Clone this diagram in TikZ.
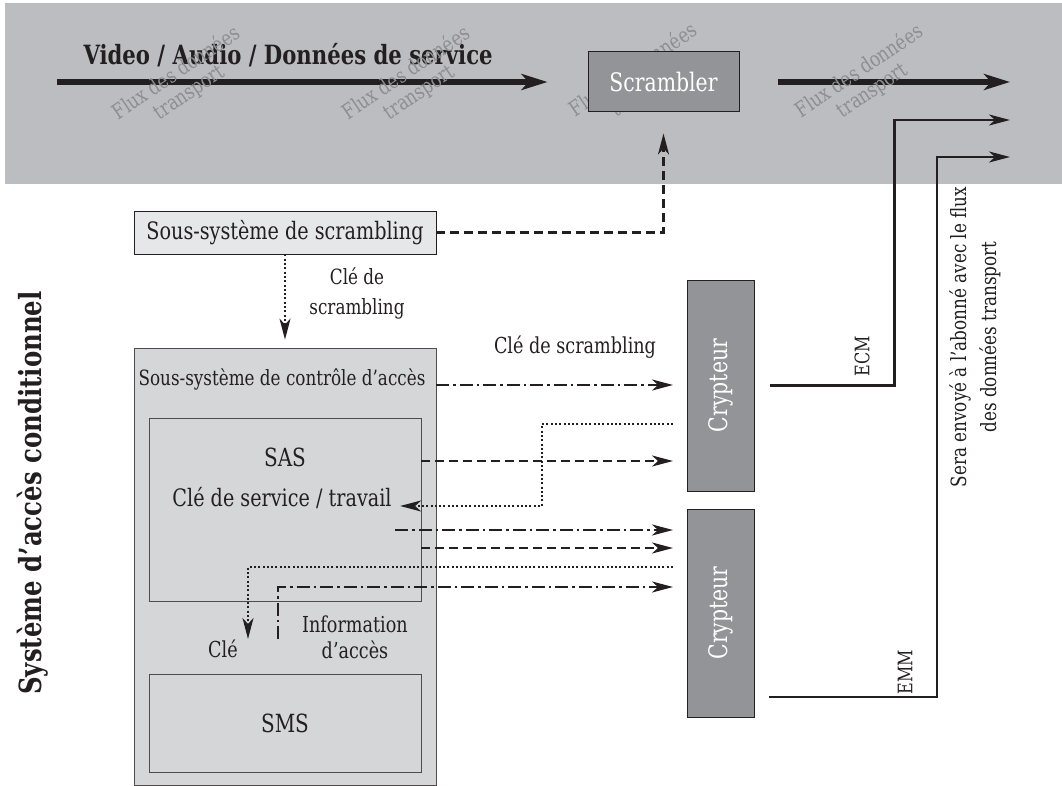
\documentclass[tikz,border=0pt]{standalone}
\usepackage{fontspec}
\setmainfont{DejaVu Serif}[FakeStretch=0.8]
\usetikzlibrary{arrows.meta,positioning,backgrounds}
\definecolor{bandc}{HTML}{BCBDC1}
\definecolor{darkc}{HTML}{939497}
\definecolor{palec}{HTML}{E6E7E8}
\definecolor{midc}{HTML}{D5D6D8}
\definecolor{inkc}{HTML}{231F20}
\definecolor{wmc}{HTML}{8D8E92}
\tikzset{
  >={Stealth[length=21pt,width=11pt,inset=6pt]},
  every node/.style={text=inkc},
  dkbox/.style={draw=inkc,line width=1pt,fill=darkc,inner sep=0pt},
  ltbox/.style={draw=inkc,line width=0.8pt,fill=palec,inner sep=0pt,font=\fontsize{24}{28}\selectfont},
  grbox/.style={draw=inkc!80,line width=0.8pt,fill=midc,inner sep=0pt},
  boxtxt/.style={font=\fontsize{24}{28}\selectfont},
  whtxt/.style={text=white,font=\fontsize{25.5}{28}\selectfont},
  lbl/.style={font=\fontsize{22}{28}\selectfont,align=center},
  wm/.style={text=wmc,rotate=34,align=center,font=\fontsize{21}{23}\selectfont},
  ttl/.style={font=\bfseries\fontsize{26.5}{30}\selectfont},
  flow/.style={-{Stealth[length=26pt,width=16pt,inset=7pt]},line width=5.5pt,draw=inkc},
  sig/.style={->,line width=2.5pt,draw=inkc},
  dsh/.style={->,line width=2.4pt,draw=inkc,dash pattern=on 9pt off 5pt},
  dshdot/.style={->,line width=2.4pt,draw=inkc,dash pattern=on 13pt off 4pt on 2.5pt off 4pt},
  dts/.style={->,line width=2pt,draw=inkc,dash pattern=on 2pt off 2.3pt},
}

\begin{document}
\begin{tikzpicture}[x=1pt,y=-1pt]
  \useasboundingbox (0,0) rectangle (1062,786);
  % blocs
  \node[dkbox,whtxt,minimum width=151pt,minimum height=60pt] (scr) at (663.5,82) {Scrambler};
  \node[ltbox,minimum width=302pt,minimum height=43pt] (sss) at (285,232.5) {Sous-système de scrambling};
  \node[grbox,minimum width=302pt,minimum height=437pt] (acc) at (285,566.5) {};
  \node[boxtxt,font=\fontsize{21}{28}\selectfont,anchor=base] (acctxt) at (282,385) {Sous-système de contrôle d’accès};
  \node[grbox,minimum width=272pt,minimum height=183pt] (sas) at (285,509.5) {};
  \node[boxtxt,font=\fontsize{25}{28}\selectfont,anchor=base] (sastxt) at (285,466) {SAS};
  \node[boxtxt,anchor=base] (cst) at (282,506) {Clé de service / travail};
  \node[grbox,boxtxt,font=\fontsize{25}{28}\selectfont,minimum width=272pt,minimum height=98pt] (sms) at (285,723) {SMS};
  \node[dkbox,minimum width=67pt,minimum height=211pt] (cr1) at (720.5,385.5) {};
  \node[whtxt,rotate=90] at (cr1) {Crypteur};
  \node[dkbox,minimum width=67pt,minimum height=208pt] (cr2) at (720.5,613) {};
  \node[whtxt,rotate=90] at (cr2) {Crypteur};
  % textes
  \node[lbl,font=\fontsize{21}{30}\selectfont] (ksc) at (357,293) {Clé de\\scrambling};
  \node[lbl] (ksc2) at (575,347) {Clé de scrambling};
  \node[lbl] (key) at (223,649) {Clé};
  \node[lbl,font=\fontsize{22}{26}\selectfont] (info) at (355,637) {Information\\d’accès};
  \node[lbl,rotate=90,font=\fontsize{20}{22}\selectfont] (ecm) at (862,356) {ECM};
  \node[lbl,rotate=90,font=\fontsize{20}{22}\selectfont] (emm) at (905,672) {EMM};
  \node[lbl,rotate=90,font=\fontsize{21}{30}\selectfont] (dest) at (975,337) {Sera envoyé à l’abonné avec le flux\\des données transport};
  \node[ttl,font=\bfseries\fontsize{30.5}{34}\selectfont,rotate=90] (cas) at (33,493) {Système d’accès conditionnel};
  % flux transport
  \begin{scope}[on background layer]
    \fill[bandc] (5,3) rectangle (1062,184);
    \node[ttl,anchor=base west] (ttl) at (80,65) {Video / Audio / Données de service};
    \coordinate (f0) at (57,82);
    \coordinate (f3) at (1010,82);
    \draw[flow] (f0) -- ([xshift=-40pt]scr.west);
    \draw[flow] ([xshift=38pt]scr.east) -- (f3);
    \foreach \wx/\wy [count=\i] in {183/83,413/83,640/80,866/81}
      \node[wm] (wm\i) at (\wx,\wy) {Flux des données\\transport};
  \end{scope}
  % liaisons
  \draw[dsh] (sss.east) -| ([yshift=-21pt]scr.south);
  \draw[dts] (sss.south) -- ([yshift=8pt]acc.north);
  \coordinate (c1) at (673,385);
  \coordinate (c2) at (673,424);
  \coordinate (c3) at (673,461);
  \coordinate (c4) at (673,530);
  \coordinate (c5) at (673,548);
  \coordinate (c6) at (673,567);
  \coordinate (c7) at (673,587);
  \coordinate (k) at (248,639);
  \coordinate (i0) at (278,639);
  \draw[dshdot] (acc.east |- c1) -- (c1);
  \draw[dts] (c2) -- ++(-131,0) |- ([xshift=5pt]cst.base east);
  \draw[dsh] (sas.east |- c3) -- (c3);
  \draw[dshdot] ([xshift=-26pt]sas.east |- c4) -- (c4);
  \draw[dsh] (sas.east |- c5) -- (c5);
  \draw[dts] (c6) -| (k);
  \draw[dshdot] (i0) |- (c7);
  \coordinate (e1) at (1010,120);
  \coordinate (m0) at (769,697);
  \coordinate (m1) at (1010,157);
  \draw[sig] ([xshift=15pt]cr1.east) -- ++(125,0) |- (e1);
  \draw[sig] (m0) -- ++(168,0) |- (m1);
\end{tikzpicture}
\end{document}
